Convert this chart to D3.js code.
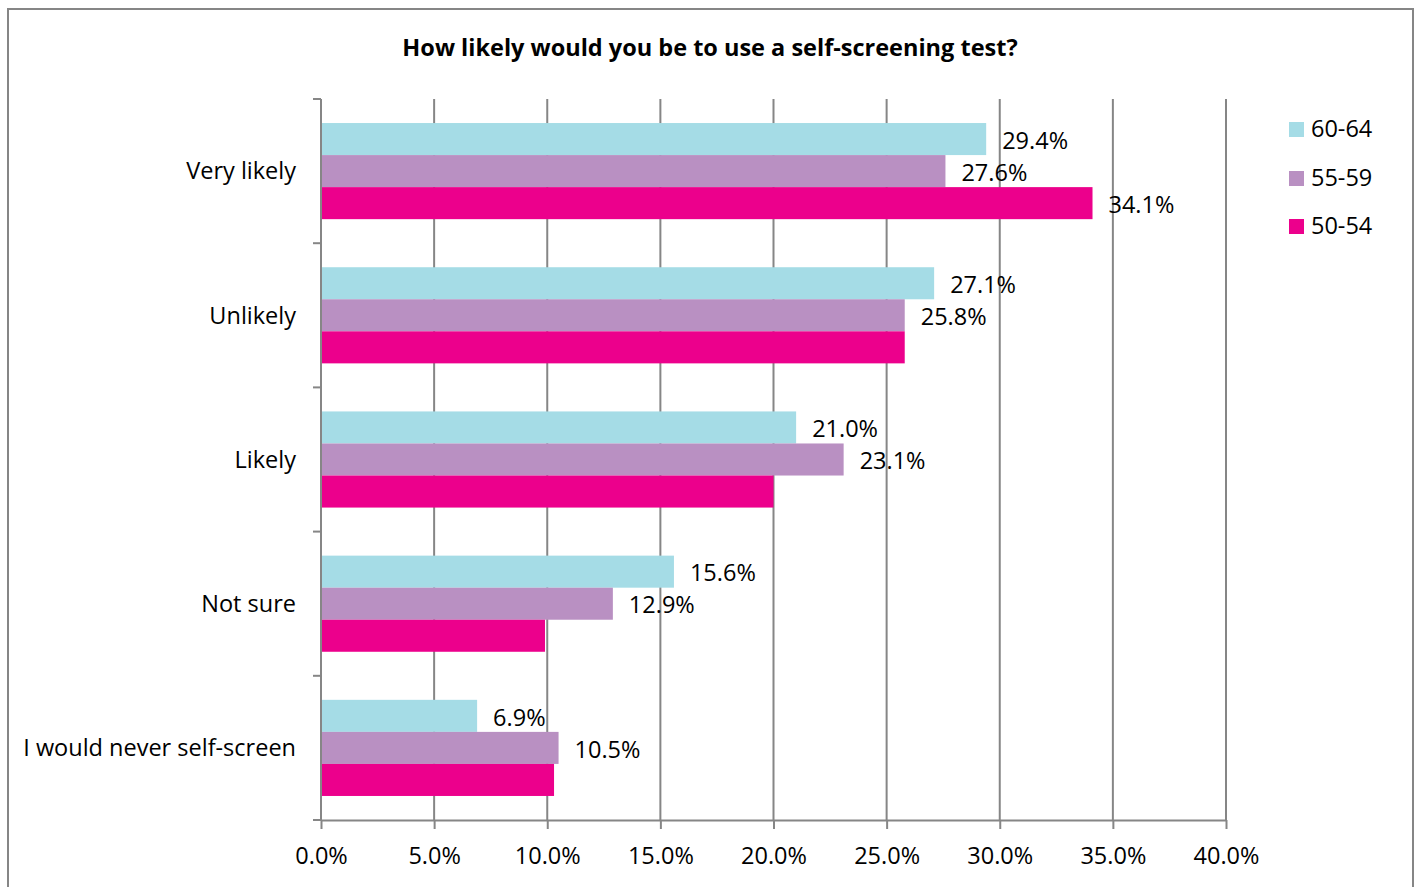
<!DOCTYPE html>
<html><head><meta charset="utf-8">
<script src="https://cdn.jsdelivr.net/npm/d3@7"></script>
<style>body{margin:0;background:#fff}svg{display:block}text{font-family:"Open Sans",sans-serif}</style>
</head><body><svg id="c" width="1420" height="887"></svg>
<script>
const categories = ["Very likely","Unlikely","Likely","Not sure","I would never self-screen"];
const seriesNames = ["60-64","55-59","50-54"];
const colors = ["#a5dce6","#b990c2","#ec008c"];
const s6064 = [29.4,27.1,21.0,15.6,6.9];
const s5559 = [27.6,25.8,23.1,12.9,10.5];
const s5054 = [34.1,25.8,20.0,9.9,10.3];
const showLabel5054 = [true,false,false,false,false];
const xTicks = [0,5,10,15,20,25,30,35,40];
const title = "How likely would you be to use a self-screening test?";

const FS = 23.5;
const series = [s6064,s5559,s5054];
const svg = d3.select("#c");
svg.append("rect").attr("x",8).attr("y",9).attr("width",1405).attr("height",890)
  .attr("fill","#fff").attr("stroke","#868686").attr("stroke-width",2);
svg.append("text").attr("x",710).attr("y",56).attr("text-anchor","middle")
  .attr("font-size",FS).attr("font-weight","bold").text(title);

const x = d3.scaleLinear().domain([0,40]).range([321,1226]);
const y = d3.scaleBand().domain(categories).range([99,820]).paddingInner(0).paddingOuter(0);
const inner = d3.scaleBand().domain(seriesNames).range([0,y.bandwidth()]).paddingOuter(0.75).paddingInner(0);

// grid
svg.append("g").selectAll("line").data(xTicks.slice(1)).join("line")
  .attr("x1",d=>x(d)).attr("x2",d=>x(d)).attr("y1",99).attr("y2",820)
  .attr("stroke","#868686").attr("stroke-width",2);

// bars
const g = svg.append("g");
series.forEach((arr,si)=>{
  g.selectAll(null).data(arr).join("rect")
    .attr("x",x(0)).attr("y",(d,i)=>y(categories[i])+inner(seriesNames[si]))
    .attr("width",d=>x(d)-x(0)).attr("height",inner.bandwidth())
    .attr("fill",colors[si]);
  g.selectAll(null).data(arr).join("text")
    .filter((d,i)=>si<2 || showLabel5054[i])
    .attr("x",d=>x(d)+16).attr("y",(d,i)=>y(categories[i])+inner(seriesNames[si])+inner.bandwidth()/2+1.5)
    .attr("dy","0.35em").attr("font-size",FS).attr("fill","#000")
    .text(d=>d.toFixed(1)+"%");
});

// axes
const xAxis = d3.axisBottom(x).tickValues(xTicks).tickFormat(d=>d.toFixed(1)+"%").tickSize(9).tickSizeOuter(0).tickPadding(13);
const xa = svg.append("g").attr("transform","translate(0,820)").call(xAxis);
xa.select(".domain").attr("stroke","#868686").attr("stroke-width",2);
xa.selectAll(".tick line").attr("stroke","#868686").attr("stroke-width",2);
xa.selectAll(".tick text").attr("font-size",FS).attr("fill","#000").attr("font-family","Open Sans").attr("dy","0.95em");

const ya = svg.append("g");
ya.append("line").attr("x1",321).attr("x2",321).attr("y1",99).attr("y2",820).attr("stroke","#868686").attr("stroke-width",2);
const bounds = categories.map(c=>y(c)).concat([820]);
ya.selectAll("line.t").data(bounds).join("line").attr("class","t")
  .attr("x1",313).attr("x2",321).attr("y1",d=>d).attr("y2",d=>d).attr("stroke","#868686").attr("stroke-width",2);
ya.selectAll("text").data(categories).join("text")
  .attr("x",296).attr("y",d=>y(d)+y.bandwidth()/2).attr("dy","0.35em")
  .attr("text-anchor","end").attr("font-size",FS).text(d=>d);

// legend
const lg = svg.append("g");
const legY = [129,178,226];
seriesNames.forEach((n,i)=>{
  lg.append("rect").attr("x",1289).attr("y",legY[i]-7).attr("width",15).attr("height",15).attr("fill",colors[i]);
  lg.append("text").attr("x",1311).attr("y",legY[i]).attr("dy","0.35em").attr("font-size",FS).text(n);
});
</script></body></html>
